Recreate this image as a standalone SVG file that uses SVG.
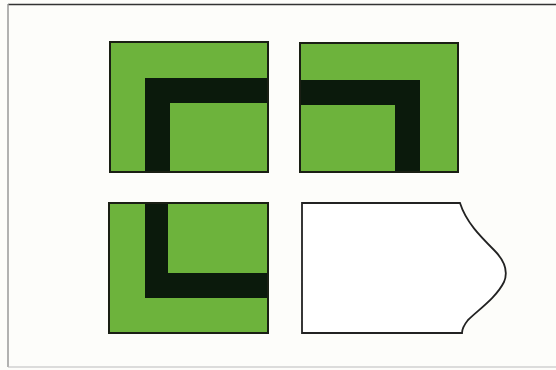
<svg xmlns="http://www.w3.org/2000/svg" width="556" height="370" viewBox="0 0 556 370">
<style>
.g{fill:#6db33c;stroke:#1a1f14;stroke-width:2}
.b{fill:#0b1a0c}
.w{fill:#ffffff;stroke:#222;stroke-width:1.8}
</style>
<rect x="0" y="0" width="556" height="370" fill="#fdfdfa"/>
<g id="frame">
<line x1="8" y1="4.5" x2="556" y2="4.5" stroke="#333" stroke-width="1.5"/>
<line x1="8" y1="4" x2="8" y2="367" stroke="#999" stroke-width="1.5"/>
<line x1="8" y1="367" x2="556" y2="367" stroke="#bbb" stroke-width="1.2"/>
</g>
<g id="square-top-left">
<rect class="g" x="110" y="42" width="158" height="130"/>
<path class="b" d="M145 78 H267 V103 H170 V171 H145 Z"/>
</g>
<g id="square-top-right">
<rect class="g" x="300" y="43" width="158" height="129"/>
<path class="b" d="M301 80 H420 V171 H395 V105 H301 Z"/>
</g>
<g id="square-bottom-left">
<rect class="g" x="109" y="203" width="159" height="130"/>
<path class="b" d="M145 204 H168 V273 H267 V298 H145 Z"/>
</g>
<g id="shape-bottom-right">
<path class="w" d="M302 203 H460 C466 222 480 236 494 250 C504 260 509 270 504 282 C496 298 478 310 468 320 C464 325 462 329 462 333 H302 Z"/>
</g>
</svg>
